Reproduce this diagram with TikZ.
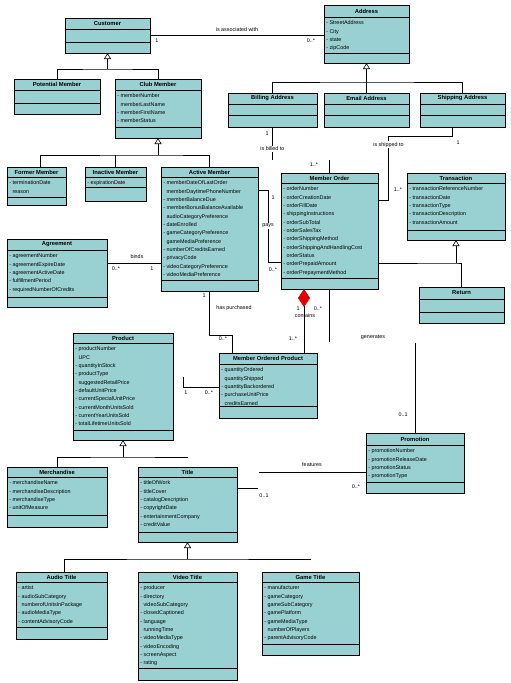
\documentclass[tikz,border=0pt]{standalone}
\usepackage{fontspec}
\setmainfont{Liberation Sans}
\usetikzlibrary{arrows.meta}
\definecolor{boxfill}{RGB}{153,209,211}
\definecolor{diamondred}{RGB}{226,0,0}
\newcommand{\nd}{\hphantom{-\ }}
% name, x, y, width, height, header height, second divider, title, attributes
\newcommand{\classbox}[9]{%
	\node[classbox, minimum width=#4pt, minimum height=#5pt] (#1) at (#2,#3) {};
	\node[classtitle] (#1-title) at ([yshift=-#6pt/2]#1.north) {#8};
	\draw[classline] ([yshift=-#6pt]#1.north west) -- ([yshift=-#6pt]#1.north east);
	\draw[classline] ([yshift=-#7pt]#1.north west) -- ([yshift=-#7pt]#1.north east);
	\node[classattr] (#1-attrs) at ([xshift=2pt, yshift=-#6pt-3.5pt]#1.north west) {#9};
}

\begin{document}
\begin{tikzpicture}[x=1pt, y=-1pt, line width=0.6pt,
	every node/.style={font=\fontsize{5.4}{8.33}\selectfont},
	classbox/.style={draw, fill=boxfill, anchor=north west, inner sep=0pt, outer sep=0pt, line width=0.8pt},
	classtitle/.style={font=\fontsize{5.8}{7}\selectfont\bfseries, inner sep=0pt},
	classattr/.style={anchor=north west, align=left, inner sep=0pt},
	classline/.style={line width=0.8pt},
	gen/.style={-{Triangle[open, length=6pt, width=7pt]}},
	contains/.style={{Diamond[fill=diamondred, color=diamondred, length=18pt, width=12pt]}-},
	mult/.style={inner sep=0pt},
	assoc/.style={fill=white, inner sep=1pt}]
	\path[fill=white] (0,0) rectangle (511,683);
	\useasboundingbox (0,0) rectangle (511,683);

	% classes
	\classbox{cust}{65}{18}{85}{35}{11}{24}{Customer}{}
	\classbox{addr}{324}{5}{85}{58}{12}{48}{Address}{- StreetAddress\\- City\\- state\\- zipCode}
	\classbox{pot}{14}{79}{86}{35}{11}{24}{Potential Member}{}
	\classbox{club}{115}{79}{86}{59}{11}{48}{Club Member}{- memberNumber\\\nd memberLastName\\- memberFirstName\\- memberStatus}
	\classbox{bill}{228}{93}{89}{34}{11}{22}{Billing Address}{}
	\classbox{email}{324}{93}{85}{34}{11}{22}{Email Address}{}
	\classbox{ship}{420}{93}{85}{34}{11}{22}{Shipping Address}{}
	\classbox{former}{7}{167}{59}{38}{10}{30}{Former Member}{- terminationDate\\\nd reason}
	\classbox{inact}{85}{167}{61}{34}{10}{20}{Inactive Member}{- expirationDate}
	\classbox{act}{161}{167}{97}{124}{10}{113}{Active Member}{- memberDateOfLastOrder\\\nd memberDaytimePhoneNumber\\- memberBalanceDue\\- memberBonusBalanceAvailable\\\nd audioCategoryPreference\\- dateEnrolled\\- gameCategoryPreference\\\nd gameMediaPreference\\- numberOfCreditsEarned\\- privacyCode\\- videoCategoryPreference\\- videoMediaPreference}
	\classbox{agree}{7}{239}{100}{68}{11}{58}{Agreement}{- agreementNumber\\- agreementExpireDate\\- agreementActiveDate\\- fulfillmentPeriod\\- requiredNumberOfCredits}
	\classbox{order}{281}{173}{97}{116}{10}{105}{Member Order}{- orderNumber\\- orderCreationDate\\- orderFillDate\\- shippingInstructions\\- orderSubTotal\\- orderSalesTax\\- orderShippingMethod\\- orderShippingAndHandlingCost\\\nd orderStatus\\- orderPrepaidAmount\\- orderPrepaymentMethod}
	\classbox{trans}{407}{173}{98}{67}{10}{57}{Transaction}{- transactionReferenceNumber\\- transactionDate\\- transactionType\\- transactionDescription\\- transactionAmount}
	\classbox{ret}{419}{287}{85}{36}{12}{25}{Return}{}
	\classbox{prod}{73}{333}{100}{107}{10}{97}{Product}{- productNumber\\\nd UPC\\- quantityInStock\\- productType\\\nd suggestedRetailPrice\\- defaultUnitPrice\\- currentSpecialUnitPrice\\- currentMonthUnitsSold\\- currentYearUnitsSold\\- totalLifetimeUnitsSold}
	\classbox{mop}{219}{353}{98}{65}{11}{53}{Member Ordered Product}{- quantityOrdered\\\nd quantityShipped\\- quantityBackordered\\- purchaseUnitPrice\\\nd creditsEarned}
	\classbox{merch}{7}{467}{100}{60}{10}{48}{Merchandise}{- merchandiseName\\- merchandiseDescription\\- merchandiseType\\- unitOfMeasure}
	\classbox{title}{138}{467}{99}{75}{10}{65}{Title}{- titleOfWork\\- titleCover\\- catalogDescription\\- copyrightDate\\- entertainmentCompany\\- creditValue}
	\classbox{promo}{366}{433}{98}{60}{12}{49}{Promotion}{- promotionNumber\\- promotionReleaseDate\\- promotionStatus\\- promotionType}
	\classbox{audio}{16}{572}{91}{67}{10}{55}{Audio Title}{- artist\\- audioSubCategory\\\nd numberofUnitsInPackage\\- audioMediaType\\- contentAdvisoryCode}
	\classbox{video}{138}{572}{99}{108}{10}{96}{Video Title}{- producer\\- directory\\\nd videoSubCategory\\- closedCaptioned\\- language\\\nd runningTime\\- videoMediaType\\- videoEncoding\\- screenAspect\\- rating}
	\classbox{game}{262}{572}{97}{83}{10}{72}{Game Title}{- manufacturer\\- gameCategory\\\nd gameSubCategory\\- gamePlatform\\- gameMediaType\\\nd numberOfPlayers\\- parentAdvisoryCode}

	% generalisations
	\coordinate (custbar) at ([yshift=-16pt]cust.south);
	\draw[gen] (custbar) -- (cust.south);
	\draw (pot.north) |- (custbar) -| (club.north);
	\coordinate (addrbar) at ([yshift=-19pt]addr.south);
	\draw[gen] (addrbar) -- (addr.south);
	\draw (bill.north) |- (addrbar) -| (ship.north);
	\draw (email.north) -- (addrbar);
	\coordinate (clubbar) at ([yshift=-17pt]club.south);
	\draw[gen] (clubbar) -- (club.south);
	\draw ([xshift=3.5pt]former.north) |- (clubbar) -| (act.north);
	\draw (inact.north) -- (inact.north |- clubbar);
	\coordinate (transjoin) at ([yshift=-23pt]trans.south);
	\draw[gen] (transjoin) -- (trans.south);
	\draw ([yshift=-90pt]order.north east) -- (transjoin) -| (ret.north);
	\coordinate (prodbar) at ([yshift=-17pt]prod.south);
	\draw[gen] (prodbar) -- (prod.south);
	\draw (merch.north) |- (prodbar) -- (prodbar -| title.north);
	\coordinate (titlebar) at ([yshift=-17pt]title.south);
	\draw[gen] (titlebar) -- (title.south);
	\draw ([xshift=2.5pt]audio.north) |- (titlebar) -- (titlebar -| game.north);

	% associations
	\draw (cust.east) -- (cust.east -| addr.west);
	\node (assoc) at (237,30) {is associated with};
	\node[mult] (assoc-a) at (157,41) {1};
	\node[mult] (assoc-b) at (311,41) {0..*};

	\draw (bill.south) -- ++(0,33) coordinate (billend) node[pos=0.66, assoc] (billed) {is billed to};
	\node[mult] (billed-a) at (267,134) {1};
	\draw (order.north) -- ++(0,-13) coordinate (orderup);
	\node[mult] (billed-b) at (314,165) {1..*};

	\draw ([xshift=-10pt]ship.south) -- ++(0,9) -- ++(-64,0) |- node[pos=0.07, assoc] (shipped) {is shipped to} ([yshift=-27pt]order.north east);
	\node[mult] (shipped-a) at (458,143) {1};
	\node[mult] (shipped-b) at (398,190) {1..*};

	\draw ([yshift=-23pt]act.north east) -- ++(10,0) |- node[pos=0.25, assoc] (pays) {pays} ([yshift=-89pt]order.north west);
	\node[mult] (pays-a) at (273,198) {1};
	\node[mult] (pays-b) at (273,270) {0..*};

	\draw ([yshift=-24pt]agree.north east) -- ([yshift=-24pt]agree.north east -| act.west);
	\node (binds) at (137,257) {binds};
	\node[mult] (binds-a) at (116,269) {0..*};
	\node[mult] (binds-b) at (152,269) {1};

	\draw (act.south) -- ++(0,44) -| ([xshift=13pt]mop.north west);
	\node (purchased) at (234,308) {has purchased};
	\node[mult] (purchased-a) at (204,296) {1};
	\node[mult] (purchased-b) at (223,339) {0..*};

	\draw[contains] ([xshift=23pt]order.south west) -- ([xshift=85pt]mop.north west);
	\node (contains) at (305,316) {contains};
	\node[mult] (contains-a) at (298,309) {1};
	\node[mult] (contains-b) at (318,309) {0..*};
	\node[mult] (contains-c) at (293,339) {1..*};

	\draw (order.south) -- ++(0,53) coordinate (genend);
	\draw (promo.north) -- ++(0,-90) coordinate (promoup);
	\node (generates) at (373,337) {generates};
	\node[mult] (generates-a) at (403,415) {0..1};

	\draw ([yshift=-34pt]mop.north west) -| ++(-36,-10) coordinate (prodend);
	\node[mult] (ordered-a) at (186,393) {1};
	\node[mult] (ordered-b) at (209,393) {0..*};

	\draw ([yshift=-21pt]title.north east) -- ++(21,0) coordinate (featA);
	\draw ([yshift=-39pt]promo.north west) -- ++(-107,0) coordinate (featB);
	\node (features) at (312,465) {features};
	\node[mult] (features-a) at (264,496) {0..1};
	\node[mult] (features-b) at (356,487) {0..*};
\end{tikzpicture}
\end{document}
